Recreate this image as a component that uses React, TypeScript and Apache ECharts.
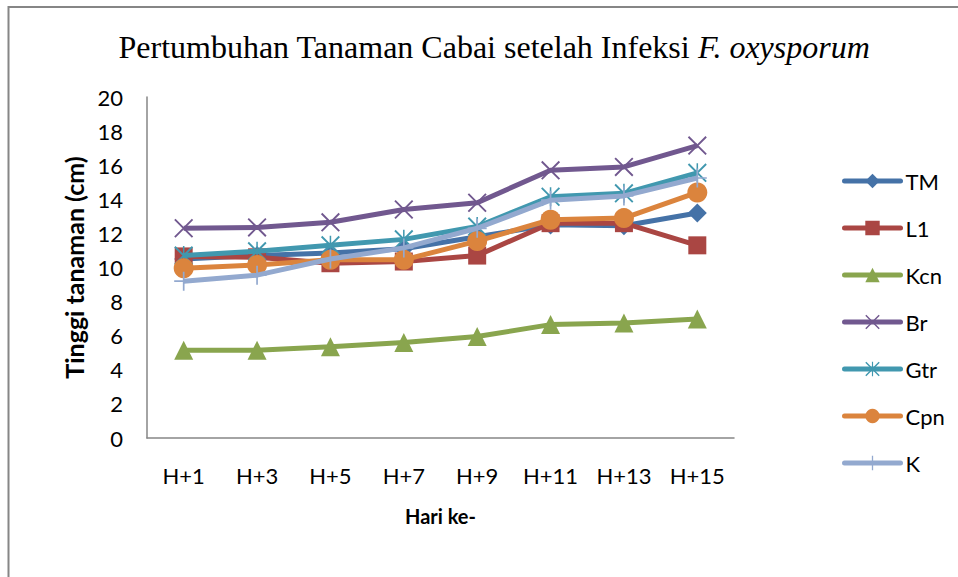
import React, { useEffect, useRef } from "react";
import * as echarts from "echarts";

const categories = ["H+1", "H+3", "H+5", "H+7", "H+9", "H+11", "H+13", "H+15"];
const seriesNames = ["TM", "L1", "Kcn", "Br", "Gtr", "Cpn", "K"];
const tmValues = [10.5, 10.7, 10.85, 11.1, 11.8, 12.5, 12.45, 13.2];
const l1Values = [10.65, 10.6, 10.25, 10.35, 10.7, 12.6, 12.6, 11.3];
const kcnValues = [5.15, 5.15, 5.35, 5.6, 5.95, 6.65, 6.75, 6.98];
const brValues = [12.3, 12.35, 12.65, 13.4, 13.8, 15.7, 15.9, 17.15];
const gtrValues = [10.7, 10.95, 11.3, 11.65, 12.4, 14.15, 14.35, 15.55];
const cpnValues = [9.95, 10.15, 10.45, 10.45, 11.55, 12.8, 12.9, 14.4];
const kValues = [9.2, 9.55, 10.5, 11.15, 12.3, 13.95, 14.2, 15.25];
const yTicks = [0, 20, 2];

const colors = ["#4572A7", "#AA4643", "#89A54E", "#71588F", "#4198AF", "#DB843D", "#93A9CF"];

const xPath = "path://M0,1.4L1.4,0L20,18.6L18.6,20Z M18.6,0L20,1.4L1.4,20L0,18.6Z";
const starPath =
  "path://M0,1.4L1.4,0L20,18.6L18.6,20Z M18.6,0L20,1.4L1.4,20L0,18.6Z M9.2,0L10.8,0L10.8,20L9.2,20Z";
const plusPath = "path://M9.1,0L10.9,0L10.9,20L9.1,20Z M0,9.1L20,9.1L20,10.9L0,10.9Z";

export default function App() {
  const ref = useRef<HTMLDivElement>(null);
  useEffect(() => {
    if (!ref.current) return;
    const chart = echarts.init(ref.current, null, { renderer: "svg" });
    const data = [tmValues, l1Values, kcnValues, brValues, gtrValues, cpnValues, kValues];
    const symbols = ["diamond", "rect", "triangle", xPath, starPath, "circle", plusPath];
    const sizes = [19, 18, 19, 19, 19, 20, 19];
    const font = "Lato, 'Noto Sans', sans-serif";
    chart.setOption({
      animation: false,
      backgroundColor: "#ffffff",
      color: colors,
      title: {
        left: 489,
        top: 26,
        textAlign: "center",
        text: "{a|Pertumbuhan Tanaman Cabai setelah Infeksi }{b|F. oxysporum}",
        textStyle: {
          fontWeight: "normal",
          rich: {
            a: { fontFamily: "'Liberation Serif', serif", fontSize: 32, fontWeight: "normal", color: "#000" },
            b: {
              fontFamily: "'Liberation Serif', serif",
              fontSize: 32,
              fontWeight: "normal",
              fontStyle: "italic",
              color: "#000",
            },
          },
        },
      },
      grid: { left: 147, right: 224, top: 97, bottom: 139, containLabel: false },
      legend: {
        orient: "vertical",
        left: 837,
        top: 165,
        itemWidth: 56,
        itemHeight: 18,
        itemGap: 25,
        lineStyle: { width: 5, cap: "round" },
        textStyle: { fontFamily: font, fontSize: 22, color: "#000", padding: [0, 0, 0, 0] },
        data: seriesNames,
      },
      xAxis: {
        type: "category",
        data: categories,
        boundaryGap: true,
        axisLine: { lineStyle: { color: "#868686", width: 1.5 } },
        axisTick: { show: false },
        axisLabel: { fontFamily: font, fontSize: 22, color: "#000", margin: 26 },
        name: "Hari ke-",
        nameLocation: "middle",
        nameGap: 68,
        nameTextStyle: { fontFamily: font, fontSize: 20, fontWeight: "bold", color: "#000" },
      },
      yAxis: {
        type: "value",
        min: yTicks[0],
        max: yTicks[1],
        interval: yTicks[2],
        splitLine: { show: false },
        axisLine: { show: true, lineStyle: { color: "#868686", width: 1.5 } },
        axisTick: { show: false },
        axisLabel: { fontFamily: font, fontSize: 22, color: "#000", margin: 24 },
        name: "Tinggi tanaman (cm)",
        nameLocation: "middle",
        nameGap: 61,
        nameTextStyle: { fontFamily: font, fontSize: 25, fontWeight: "bold", color: "#000" },
      },
      graphic: [
        { type: "line", shape: { x1: 8, y1: 7, x2: 958, y2: 7 }, style: { stroke: "#868686", lineWidth: 2 } },
        { type: "line", shape: { x1: 8.5, y1: 6, x2: 8.5, y2: 577 }, style: { stroke: "#868686", lineWidth: 2 } },
      ],
      series: seriesNames.map((name, i) => ({
        name,
        type: "line",
        data: data[i],
        symbol: symbols[i],
        symbolSize: sizes[i],
        showSymbol: true,
        lineStyle: { width: 5, color: colors[i] },
        itemStyle: { color: colors[i] },
        z: 2 + i,
      })),
    });
    return () => chart.dispose();
  }, []);
  return <div ref={ref} style={{ position: "fixed", left: 0, top: 0, width: 958, height: 577 }} />;
}
